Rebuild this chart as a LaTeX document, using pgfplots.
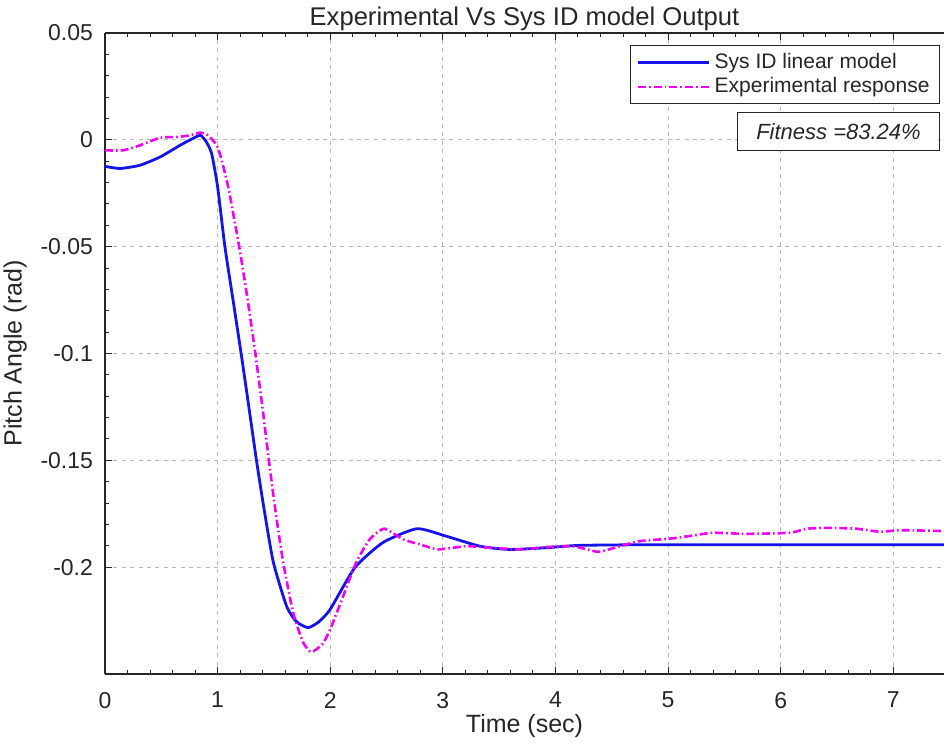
\documentclass[border=0pt]{standalone}
\usepackage{pgfplots}
\pgfplotsset{compat=1.18}
\usepackage{fontspec}
\setmainfont{Liberation Sans}
\definecolor{myblue}{RGB}{20,20,230}
\definecolor{mymag}{RGB}{240,0,240}
\definecolor{axc}{RGB}{38,38,38}
\begin{document}
\begin{tikzpicture}
\begin{axis}[
  name=ax,
  scale only axis,
  width=419.5pt, height=320.5pt,
  xmin=0, xmax=7.45, ymin=-0.25, ymax=0.05,
  separate axis lines,
  axis x line*=box, axis y line*=left,
  axis line style={axc, line width=0.6pt},
  xtick={0,1,2,3,4,5,6,7},
  xticklabels={0,1,2,3,4,5,6,7},
  ytick={-0.2,-0.15,-0.1,-0.05,0,0.05},
  yticklabels={-0.2,-0.15,-0.1,-0.05,0,0.05},
  minor x tick num=4, minor y tick num=4,
  tick align=inside,
  major tick length=3.5pt, minor tick length=2pt,
  tick style={axc, line width=0.5pt},
  xtick pos=both, ytick pos=left,
  grid=major,
  major grid style={black!28, dash pattern=on 2pt off 2.2pt, line width=0.5pt},
  ticklabel style={font=\fontsize{11.5}{13}\selectfont, text=axc},
  xticklabel style={yshift=-5.5pt},
  yticklabel style={xshift=-2.5pt},
  xlabel={Time (sec)}, ylabel={Pitch Angle (rad)},
  label style={font=\fontsize{12.5}{15}\selectfont, text=axc},
  xlabel style={yshift=4pt},
  every axis title shift=0pt,
  title={Experimental Vs Sys ID model Output},
  title style={font=\fontsize{12.8}{15}\selectfont, text=axc, at={(rel axis cs:0.5,1)}, anchor=south, inner sep=1pt},
  legend style={at={(rel axis cs:1,1)}, anchor=north east, xshift=-2pt, yshift=-6pt,
    draw=axc, line width=0.5pt, font=\fontsize{10.5}{12}\selectfont, text=axc,
    cells={anchor=west}, row sep=-1pt, inner xsep=3pt, inner ysep=2pt},
  legend image code/.code={\draw[#1] (0cm,0cm) -- (1.25cm,0cm);},
]
\addplot[myblue, line width=1.4pt, smooth, tension=0.35] coordinates {
(0,-0.0124) (0.133,-0.0134) (0.31,-0.0119) (0.49,-0.0080) (0.665,-0.0026)
(0.80,0.0012) (0.85,0.0021) (0.90,-0.0010) (0.947,-0.0064) (1.0,-0.022) (1.065,-0.0501)
(1.14,-0.076) (1.213,-0.1015) (1.28,-0.126) (1.345,-0.150) (1.41,-0.172)
(1.494,-0.1975) (1.612,-0.2182) (1.70,-0.2255) (1.804,-0.2283) (1.90,-0.2255) (2.0,-0.2197) (2.22,-0.2001)
(2.47,-0.1884) (2.77,-0.1820) (3.03,-0.1855) (3.33,-0.1902) (3.59,-0.1917)
(3.92,-0.1909) (4.21,-0.1898) (4.81,-0.1895) (6.0,-0.1895) (7.45,-0.1895)
};
\addlegendentry{Sys ID linear model}
\addplot[mymag, line width=1.3pt, smooth, tension=0.35, dash pattern=on 4pt off 1.5pt on 0.8pt off 1.5pt] coordinates {
(0,-0.0049) (0.16,-0.0049) (0.31,-0.0026) (0.49,0.0010) (0.636,0.0013) (0.754,0.0021)
(0.843,0.0034) (0.887,0.0029) (0.93,0.0014) (1.005,-0.0040) (1.094,-0.0220)
(1.198,-0.0520) (1.27,-0.0760) (1.335,-0.1000) (1.40,-0.1260) (1.46,-0.1520)
(1.52,-0.1760) (1.585,-0.1985) (1.671,-0.2213) (1.76,-0.2353) (1.834,-0.2397)
(1.93,-0.2360) (2.0,-0.2291) (2.115,-0.2135) (2.23,-0.1979) (2.35,-0.1870)
(2.48,-0.1820) (2.65,-0.1870) (2.85,-0.1902) (2.96,-0.1917) (3.21,-0.1902)
(3.42,-0.1909) (3.68,-0.1917) (3.92,-0.1906) (4.16,-0.1902) (4.38,-0.1928)
(4.57,-0.1902) (4.75,-0.1878) (5.01,-0.1867) (5.22,-0.1852) (5.40,-0.1839)
(5.69,-0.1844) (6.08,-0.1839) (6.23,-0.1820) (6.43,-0.1816) (6.67,-0.1820)
(6.88,-0.1834) (7.07,-0.1827) (7.45,-0.1831)
};
\addlegendentry{Experimental response}
\node[draw=axc, line width=0.5pt, fill=white, anchor=north east, minimum width=101pt, minimum height=19pt,
  font=\fontsize{11}{13}\selectfont\itshape, text=axc, xshift=-2pt, yshift=-39.5pt]
  at (rel axis cs:1,1) {Fitness =83.24\%};
\end{axis}
\pgfresetboundingbox
\path[use as bounding box] ([xshift=-52.5pt,yshift=-36pt]ax.south west) rectangle ([yshift=16.5pt]ax.north east);
\end{tikzpicture}
\end{document}
